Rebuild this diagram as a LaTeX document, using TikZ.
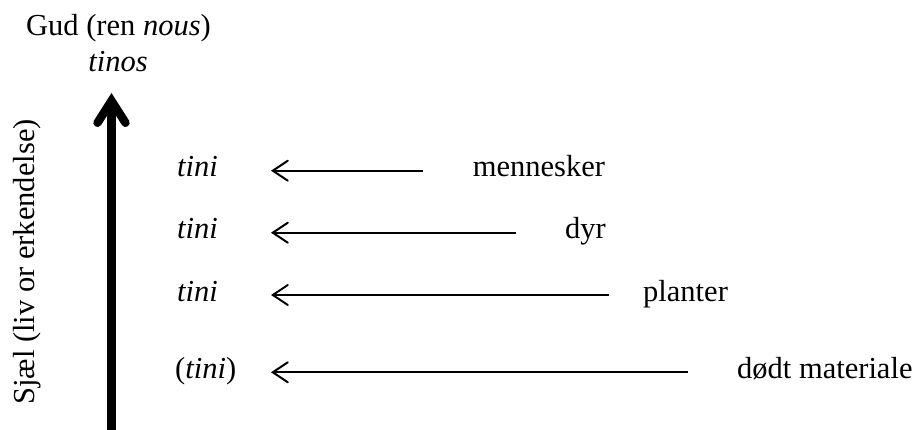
\documentclass[tikz,border=0pt]{standalone}
\usepackage{fontspec}
\setmainfont{Liberation Serif}
\usetikzlibrary{arrows.meta}
\tikzset{
  lbl/.style={font=\fontsize{30.5}{36}\selectfont, inner sep=0pt, anchor=base west},
  thinarrow/.style={line width=2pt,
    -{Straight Barb[length=15pt, width=20pt, line cap=round]}},
  thickarrow/.style={line width=8.4pt,
    -{Straight Barb[length=22pt, width=28pt, line cap=round, line join=miter]}}
}
\begin{document}
\begin{tikzpicture}[x=1pt, y=-1pt]
  \useasboundingbox (0,0) rectangle (918,430);

  % top label
  \node[lbl, anchor=base] (gud) at (118.5,36) {Gud (ren \textit{nous})};
  \node[lbl, anchor=base] (tinos) at (118,72) {\textit{tinos}};

  % vertical axis
  \coordinate (axisbot) at (111.5,432);
  \coordinate (axistop) at (111.5,93);
  \draw[thickarrow] (axisbot) -- (axistop);
  \node[lbl, anchor=base, rotate=90] (sjael) at (34.5,262) {Sjæl (liv or erkendelse)};

  % levels
  \node[lbl] (t1) at (177,176.7) {\textit{tini}};
  \node[lbl] (t2) at (177,238.7) {\textit{tini}};
  \node[lbl] (t3) at (177,301.2) {\textit{tini}};
  \node[lbl] (t4) at (175,378.5) {(\textit{tini})};

  \node[lbl] (m) at (472.7,176.7) {mennesker};
  \node[lbl] (d) at (565,238.7) {dyr};
  \node[lbl] (p) at (643,301.2) {planter};
  \node[lbl] (dm) at (737,378.5) {dødt materiale};

  \coordinate (s1) at (422.7,170.7); \coordinate (e1) at (271,170.7);
  \coordinate (s2) at (515.7,232.7); \coordinate (e2) at (271,232.7);
  \coordinate (s3) at (609,295);     \coordinate (e3) at (271,295);
  \coordinate (s4) at (688,372.3);   \coordinate (e4) at (271,372.3);

  \draw[thinarrow] (s1) -- (e1);
  \draw[thinarrow] (s2) -- (e2);
  \draw[thinarrow] (s3) -- (e3);
  \draw[thinarrow] (s4) -- (e4);
\end{tikzpicture}
\end{document}
